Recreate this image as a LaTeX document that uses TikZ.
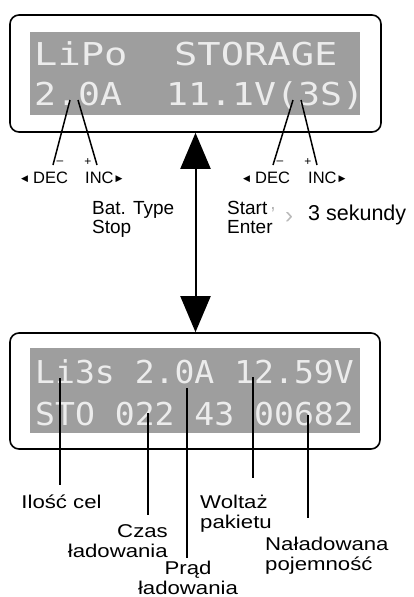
\documentclass[tikz,border=0pt]{standalone}
\usepackage{fontspec}
\setmainfont{Liberation Sans}
\newfontfamily\widesans[FakeStretch=1.2]{Liberation Sans}
\newfontfamily\lcdWfont[FakeStretch=1.23]{DejaVu Sans Mono}
\newfontfamily\lcdAfont[FakeStretch=1.16]{DejaVu Sans Mono}
\newfontfamily\lcdBfont[FakeStretch=1.05]{DejaVu Sans Mono}
\newfontfamily\symfont{DejaVu Sans}
\usetikzlibrary{arrows.meta}
\definecolor{lcdgray}{HTML}{9E9E9E}
\definecolor{lcdtext}{HTML}{ECECEC}
\newcommand{\ltri}{\raisebox{2pt}{\symfont\fontsize{9}{9}\selectfont ◀}}
\newcommand{\rtri}{\raisebox{2pt}{\symfont\fontsize{9}{9}\selectfont ▶}}
\begin{document}
\begin{tikzpicture}[x=1pt,y=-1pt,
  frame/.style={draw=black, line width=1.6pt, rounded corners=9pt, inner sep=0pt},
  lcdwide/.style={text=lcdtext, inner sep=0pt, anchor=base west, font=\lcdWfont\fontsize{31.5}{32}\selectfont},
  lcdtop/.style={text=lcdtext, inner sep=0pt, anchor=base west, font=\lcdAfont\fontsize{31.5}{32}\selectfont},
  lcdbot/.style={text=lcdtext, inner sep=0pt, anchor=base west, font=\lcdBfont\fontsize{31.5}{32}\selectfont},
  ptr/.style={line width=1.5pt},
  keylab/.style={inner sep=0pt, anchor=base west, font=\fontsize{16.5}{16.5}\selectfont},
  midlab/.style={inner sep=0pt, anchor=base west, align=left, font=\fontsize{19}{19}\selectfont},
  botlab/.style={inner sep=0pt, font=\widesans\fontsize{18.5}{20}\selectfont},
  signlab/.style={inner sep=0pt, font=\fontsize{12}{12}\selectfont},
  bigarrow/.style={line width=2pt, {Triangle[width=30pt,length=36pt]}-{Triangle[width=30pt,length=36pt]}}
]
\useasboundingbox (0,0) rectangle (413,597);

% ---------- top display ----------
\node[frame, minimum width=371pt, minimum height=117pt] (topframe) at (195.5,73.5) {};
\fill[lcdgray] (30,32) rectangle (360,115);
\node[lcdwide] (t1) at (34,65) {LiPo\ \ STORAGE};
\node[lcdtop] (t2) at (34,105) {2.0A\ \ 11.1V(3S)};

\coordinate (a1) at (70,100);  \coordinate (b1) at (53,165);
\coordinate (a2) at (78,100);  \coordinate (b2) at (97,165);
\coordinate (a3) at (293,100); \coordinate (b3) at (273,165);
\coordinate (a4) at (301,100); \coordinate (b4) at (317,165);
\draw[ptr] (a1) -- (b1);
\draw[ptr] (a2) -- (b2);
\draw[ptr] (a3) -- (b3);
\draw[ptr] (a4) -- (b4);

\node[signlab] (m1) at (60,163) {–};
\node[signlab] (p1) at (88,162) {+};
\node[signlab] (m2) at (280,163) {–};
\node[signlab] (p2) at (308,162) {+};

\node[keylab] (dec1) at (21,183) {\ltri\hspace{5pt}DEC};
\node[keylab] (inc1) at (85,183) {INC\hspace{2pt}\rtri};
\node[keylab] (dec2) at (243,183) {\ltri\hspace{5pt}DEC};
\node[keylab] (inc2) at (308,183) {INC\hspace{2pt}\rtri};

\node[midlab] (bat) at (92,233) {Bat. Type\\Stop};
\node[midlab] (start) at (227,233) {Start{\color{gray!60}\,\raisebox{5pt}{,}}\\Enter};
\node[inner sep=0pt, text=gray!55, font=\fontsize{24}{24}\selectfont] (chev) at (289,218) {›};
\node[inner sep=0pt, anchor=base west, font=\fontsize{21.5}{22}\selectfont] (sek) at (308,220) {3 sekundy};

% ---------- bottom display ----------
\node[frame, minimum width=370pt, minimum height=116pt] (botframe) at (195,391) {};
\fill[lcdgray] (30,348) rectangle (360,433);
\node[lcdbot] (u1) at (35,383) {Li3s 2.0A 12.59V};
\node[lcdbot] (u2) at (35,425) {STO 022 43 00682};

\draw[bigarrow] (topframe.south) -- (topframe.south |- botframe.north);

\node[botlab, anchor=base] (ilosc) at (61.5,508) {Ilość cel};
\node[botlab, anchor=base east, align=right] (czas) at (168,557) {Czas\\ładowania};
\node[botlab, anchor=base, align=center] (prad) at (188,594) {Prąd\\ładowania};
\node[botlab, anchor=base west, align=left] (wolt) at (200,528) {Woltaż\\pakietu};
\node[botlab, anchor=base west, align=left] (nal) at (265,570) {Naładowana\\pojemność};

\coordinate (s1) at (60,378);  \coordinate (e1) at (60,485);
\coordinate (s2) at (148,413); \coordinate (e2) at (148,515);
\coordinate (s3) at (187,388); \coordinate (e3) at (187,558);
\coordinate (s4) at (253,377); \coordinate (e4) at (253,478);
\coordinate (s5) at (308,415); \coordinate (e5) at (308,518);
\draw[ptr] (s1) -- (e1);
\draw[ptr] (s2) -- (e2);
\draw[ptr] (s3) -- (e3);
\draw[ptr] (s4) -- (e4);
\draw[ptr] (s5) -- (e5);
\end{tikzpicture}
\end{document}
